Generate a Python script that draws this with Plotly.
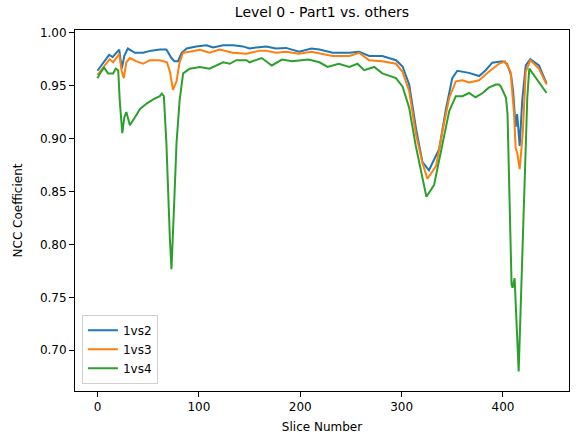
import plotly.graph_objects as go

# NCC coefficient of Part1 against the other parts, per slice (level 0)
slice_1vs2 = [0, 6, 11.5, 15, 19, 21.5, 24, 26.5, 30, 37, 45, 53, 61.5, 68, 73, 76, 79.5, 83, 88,
              97.5, 107.5, 114, 124, 134, 143.5, 150, 157, 166.5, 176, 186, 199, 211, 219, 232,
              248.5, 258, 268, 281, 294.5, 301, 307.5, 314, 320.5, 327, 337, 344, 350, 355, 366.5,
              376.5, 383, 389.5, 399.5, 404, 408, 410, 412.5, 414, 416.5, 419, 422.5, 427, 435.5, 443]
ncc_1vs2 = [0.964, 0.972, 0.979, 0.977, 0.981, 0.984, 0.966, 0.978, 0.985, 0.981, 0.981, 0.983, 0.984,
            0.984, 0.976, 0.973, 0.973, 0.981, 0.985, 0.987, 0.988, 0.986, 0.988, 0.988, 0.987, 0.985,
            0.986, 0.987, 0.985, 0.9856, 0.982, 0.985, 0.984, 0.981, 0.981, 0.982, 0.978, 0.978,
            0.974, 0.968, 0.951, 0.911, 0.878, 0.870, 0.890, 0.929, 0.957, 0.964, 0.962, 0.959,
            0.9645, 0.9716, 0.973, 0.9706, 0.960, 0.945, 0.911, 0.923, 0.893, 0.936, 0.969, 0.975,
            0.969, 0.952]

slice_1vs3 = [0, 6, 12, 15.5, 19.5, 21.5, 24, 26, 28.5, 32, 38.5, 45, 51.5, 61.5, 68.5, 71.5, 74.5,
              78, 81, 84.5, 91, 101, 110.5, 120.5, 133.5, 147, 160, 166, 176, 186, 199, 211, 232,
              248.5, 258, 268, 281, 294.5, 301, 307.5, 314, 320.5, 325.5, 334, 340.5, 347, 353.5,
              360, 366.5, 376.5, 386, 396, 402, 407.5, 411, 412.5, 414, 416.5, 419.5, 422.5, 427,
              435.5, 443]
ncc_1vs3 = [0.960, 0.9676, 0.975, 0.972, 0.977, 0.980, 0.963, 0.957, 0.972, 0.976, 0.9728, 0.9706,
            0.974, 0.974, 0.972, 0.963, 0.946, 0.954, 0.972, 0.981, 0.982, 0.9838, 0.981, 0.984,
            0.981, 0.980, 0.983, 0.983, 0.981, 0.982, 0.980, 0.982, 0.978, 0.978, 0.981, 0.974,
            0.973, 0.9706, 0.963, 0.9447, 0.905, 0.877, 0.862, 0.874, 0.908, 0.9385, 0.954, 0.955,
            0.953, 0.955, 0.963, 0.9706, 0.973, 0.963, 0.923, 0.891, 0.8865, 0.871, 0.905, 0.963,
            0.974, 0.966, 0.951]

slice_1vs4 = [0, 2.5, 6.5, 10.5, 15.5, 18, 20.5, 22, 24.5, 26.5, 28.5, 32, 37, 42, 48.5, 55, 61.5,
              63.5, 65.5, 68, 71.5, 73, 75.5, 78, 81, 84.5, 91, 101, 110.5, 117.5, 124, 130.5, 137,
              147, 150, 162, 172, 182, 192, 208, 219, 227, 238, 248.5, 256.5, 263, 273, 281, 294.5,
              301, 307.5, 314, 320.5, 324.5, 332, 339, 347, 353.5, 360, 366.5, 373, 380, 386, 393,
              396, 398, 401, 403, 404.5, 408.5, 409.5, 411.5, 415.5, 417.5, 421, 424, 426, 434, 443]
ncc_1vs4 = [0.957, 0.9615, 0.967, 0.9615, 0.9615, 0.966, 0.9645, 0.9355, 0.905, 0.920, 0.925,
            0.9126, 0.920, 0.928, 0.933, 0.937, 0.940, 0.9425, 0.940, 0.8957, 0.804, 0.7765,
            0.8346, 0.8957, 0.9355, 0.9615, 0.966, 0.9676, 0.966, 0.969, 0.972, 0.9706, 0.974,
            0.974, 0.972, 0.976, 0.969, 0.9746, 0.973, 0.9746, 0.972, 0.9676, 0.9706, 0.9676,
            0.9706, 0.9645, 0.9676, 0.9615, 0.957, 0.949, 0.929, 0.893, 0.862, 0.845, 0.856,
            0.8896, 0.926, 0.940, 0.940, 0.943, 0.939, 0.943, 0.948, 0.951, 0.951, 0.949, 0.943,
            0.9385, 0.923, 0.762, 0.759, 0.768, 0.680, 0.743, 0.865, 0.9385, 0.966, 0.955, 0.943]

series = [
    ("1vs2", slice_1vs2, ncc_1vs2, "#1f77b4"),
    ("1vs3", slice_1vs3, ncc_1vs3, "#ff7f0e"),
    ("1vs4", slice_1vs4, ncc_1vs4, "#2ca02c"),
]

FONT = "DejaVu Sans"

fig = go.Figure()
for name, xs, ys, color in series:
    fig.add_trace(go.Scatter(x=xs, y=ys, mode="lines", name=name,
                             line=dict(color=color, width=2)))

axis_common = dict(showline=True, linecolor="black", linewidth=1, mirror=True,
                   ticks="outside", ticklen=5, tickcolor="black", showgrid=False,
                   zeroline=False, tickfont=dict(family=FONT, size=12, color="black"))

fig.update_layout(
    width=581, height=443,
    margin=dict(l=75, r=11, t=30, b=44),
    paper_bgcolor="white", plot_bgcolor="white",
    font=dict(family=FONT, size=12, color="black"),
    title=dict(text="Level 0 - Part1 vs. others", x=0.5, xref="paper",
               y=1 - 12 / 443, yref="container", yanchor="middle",
               font=dict(family=FONT, size=14, color="black")),
    xaxis=dict(range=[-22.15, 465.15], tickvals=[0, 100, 200, 300, 400],
               title=dict(text="Slice Number", standoff=9,
                          font=dict(family=FONT, size=12)), **axis_common),
    yaxis=dict(range=[0.6615, 1.0025], tickvals=[0.70, 0.75, 0.80, 0.85, 0.90, 0.95, 1.00],
               tickformat=".2f",
               title=dict(text="NCC Coefficient", standoff=14,
                          font=dict(family=FONT, size=12)), **axis_common),
    legend=dict(x=0.014, y=0.02, xanchor="left", yanchor="bottom",
                bgcolor="rgba(255,255,255,0.8)", bordercolor="#d0d0d0", borderwidth=1,
                font=dict(family=FONT, size=12, color="black")),
    showlegend=True,
)

fig.write_html("out.html")
